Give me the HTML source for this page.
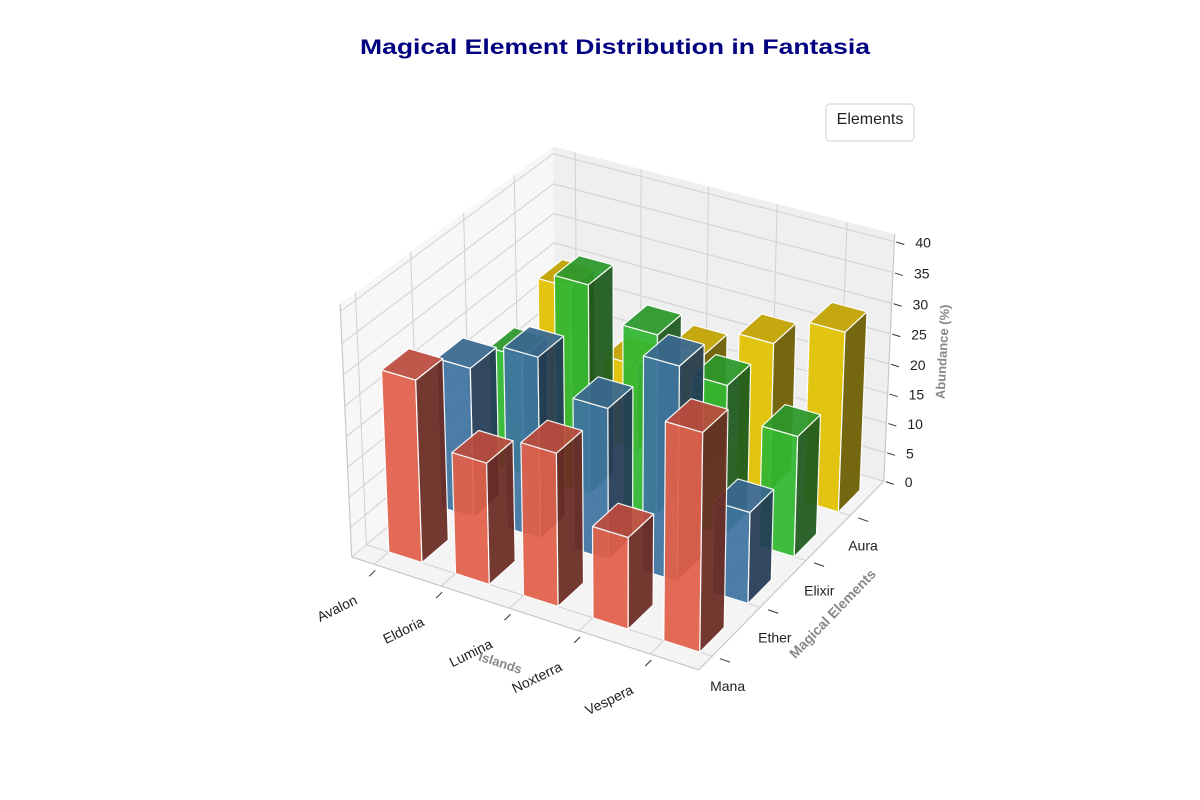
<!DOCTYPE html>
<html><head><meta charset="utf-8"><style>
html,body{margin:0;padding:0;background:#fff;}
svg{display:block;font-family:"Liberation Sans","DejaVu Sans",sans-serif;}
</style></head><body>
<svg id="chart" width="1200" height="800" viewBox="0 0 1200 800" xmlns="http://www.w3.org/2000/svg">
<rect width="1200" height="800" fill="#fff"/>
<text x="360" y="54" textLength="510" lengthAdjust="spacingAndGlyphs" font-size="21" font-weight="bold" fill="#000080">Magical Element Distribution in Fantasia</text>
<g id="panes"></g><g id="grid"></g><g id="axes"></g><g id="bars"></g><g id="labels"></g>
<g>
<rect x="826" y="104" width="88" height="37" rx="4" fill="#fff" stroke="#d0d0d0"/>
<text x="870" y="124" text-anchor="middle" font-size="16" fill="#222">Elements</text>
</g>
<text x="0" y="0" transform="translate(499,667) rotate(18)" text-anchor="middle" font-size="13" font-weight="bold" fill="#888">Islands</text>
<text x="0" y="0" transform="translate(836,617) rotate(-46)" text-anchor="middle" font-size="14" font-weight="bold" fill="#888">Magical Elements</text>
<text x="0" y="0" transform="translate(947,352) rotate(-87)" text-anchor="middle" font-size="13" font-weight="bold" fill="#888">Abundance (%)</text>
</svg>
<script>
const islands=['Avalon','Eldoria','Lumina','Noxterra','Vespera'];
const elements=['Mana','Ether','Elixir','Aura'];
const mana=[30,20,25,15,35];
const ether=[25,30,25,35,15];
const elixir=[20,35,30,25,20];
const aura=[25,15,20,25,30];
const zTicks=[0,5,10,15,20,25,30,35,40];

const series=[mana,ether,elixir,aura];
const colors=[
 {front:'#e2604a',side:'#6a2b23',top:'#bb4c3d'},
 {front:'#3f74a2',side:'#243c56',top:'#3a6890'},
 {front:'#31b831',side:'#1d5a1d',top:'#2b982b'},
 {front:'#e2c200',side:'#6b5d00',top:'#c2a300'}];
const NS='http://www.w3.org/2000/svg';
const xmin=-0.34,xmax=4.67,ymin=-0.27,ymax=3.79,zmin=0,zmax=42.5,zpane=41.2;
const B=[1.1428,1.1428,0.8571];
const R=[B[0]/2,B[1]/2,B[2]/2];
const ps=[0.433,-0.75,0.5];
const eye=[R[0]+10*ps[0],R[1]+10*ps[1],R[2]+10*ps[2]];
const U=[0.866,0.5,0],V=[-0.25,0.433,0.866],W=ps;
const K=3480,X0=622.4,Y0=392;
function world(x,y,z){return [(x-xmin)/(xmax-xmin)*B[0],(y-ymin)/(ymax-ymin)*B[1],(z-zmin)/(zmax-zmin)*B[2]];}
function cam(x,y,z){const p=world(x,y,z);const d=[p[0]-eye[0],p[1]-eye[1],p[2]-eye[2]];
 return [d[0]*U[0]+d[1]*U[1]+d[2]*U[2],d[0]*V[0]+d[1]*V[1]+d[2]*V[2],d[0]*W[0]+d[1]*W[1]+d[2]*W[2]];}
function P(x,y,z){const c=cam(x,y,z);return [X0+K*c[0]/(-c[2]),Y0-K*c[1]/(-c[2])];}
function dist(x,y,z){const c=cam(x,y,z);return Math.hypot(c[0],c[1],c[2]);}
function el(tag,attrs,parent){const e=document.createElementNS(NS,tag);for(const k in attrs)e.setAttribute(k,attrs[k]);parent.appendChild(e);return e;}
function pts(a){return a.map(p=>{const q=P(...p);return q[0].toFixed(1)+','+q[1].toFixed(1);}).join(' ');}
const gP=document.getElementById('panes'),gG=document.getElementById('grid'),gA=document.getElementById('axes'),gB=document.getElementById('bars'),gL=document.getElementById('labels');
let e;
e=el('polygon',{points:pts([[xmin,ymin,0],[xmax,ymin,0],[xmax,ymax,0],[xmin,ymax,0]]),fill:'#f4f4f4'},gP);


e=el('polygon',{points:pts([[xmin,ymin,0],[xmin,ymax,0],[xmin,ymax,zpane],[xmin,ymin,zpane]]),fill:'#f7f7f7'},gP);


e=el('polygon',{points:pts([[xmin,ymax,0],[xmax,ymax,0],[xmax,ymax,zpane],[xmin,ymax,zpane]]),fill:'#efefef'},gP);


const gs={stroke:'#d3d3d3','stroke-width':1.1,fill:'none'};
islands.forEach((n,i)=>{const x=i;
 e=el('polyline',Object.assign({points:pts([[x,ymin,0],[x,ymax,0],[x,ymax,zpane]])},gs),gG);
 
 });
elements.forEach((n,j)=>{const y=j;
 e=el('polyline',Object.assign({points:pts([[xmax,y,0],[xmin,y,0],[xmin,y,zpane]])},gs),gG);
 
 });
zTicks.forEach(z=>{
 e=el('polyline',Object.assign({points:pts([[xmin,ymin,z],[xmin,ymax,z],[xmax,ymax,z]])},gs),gG);
 
 });
const as={stroke:'#c8c8c8','stroke-width':1.2,fill:'none'};
e=el('polyline',Object.assign({points:pts([[xmin,ymin,0],[xmax,ymin,0],[xmax,ymax,0],[xmax,ymax,zpane]])},as),gA);


e=el('polyline',Object.assign({points:pts([[xmin,ymin,zpane],[xmin,ymin,0]])},as),gA);


islands.forEach((n,i)=>{const a=P(i,ymin,0);
 e=el('line',{x1:a[0]+1,y1:a[1]+6,x2:a[0]-5,y2:a[1]+12,stroke:'#333','stroke-width':1},gL);
 
 
 e=el('text',{transform:`translate(${a[0]-16},${a[1]+39}) rotate(-26)`,'text-anchor':'end','font-size':14,fill:'#222'},gL);
 e.textContent=n;
 
 });
elements.forEach((n,j)=>{const a=P(xmax,j,0);
 e=el('line',{x1:a[0]+8,y1:a[1]+2.5,x2:a[0]+18,y2:a[1]+6,stroke:'#333','stroke-width':1},gL);
 
 
 e=el('text',{x:a[0]-2,y:a[1]+35,'text-anchor':'start','font-size':14,fill:'#222'},gL);
 e.textContent=n;
 
 });
zTicks.forEach(z=>{const a=P(xmax,ymax,z);
 e=el('line',{x1:a[0]+2,y1:a[1]+0.5,x2:a[0]+10,y2:a[1]+3,stroke:'#333','stroke-width':1},gL);
 
 
 e=el('text',{x:a[0]+21,y:a[1]+6,'text-anchor':'start','font-size':14,fill:'#222'},gL);
 e.textContent=z;
 
 });
const d=0.5,list=[];
series.forEach((s,j)=>s.forEach((h,i)=>list.push({i,j,h,dd:dist(i+d/2,j+d/2,h/2)})));
list.sort((a,b)=>b.dd-a.dd);
list.forEach(b=>{const x=b.i,y=b.j,h=b.h,c=colors[b.j];
 const g=el('g',{opacity:0.93},gB);
 
 
 const st={stroke:'#fff','stroke-width':1.2,'stroke-linejoin':'round'};
 e=el('polygon',Object.assign({points:pts([[x,y,0],[x+d,y,0],[x+d,y,h],[x,y,h]]),fill:c.front},st),g);
 
 
 e=el('polygon',Object.assign({points:pts([[x+d,y,0],[x+d,y+d,0],[x+d,y+d,h],[x+d,y,h]]),fill:c.side},st),g);
 
 
 e=el('polygon',Object.assign({points:pts([[x,y,h],[x+d,y,h],[x+d,y+d,h],[x,y+d,h]]),fill:c.top},st),g);
 
 
});
</script>
</body></html>
